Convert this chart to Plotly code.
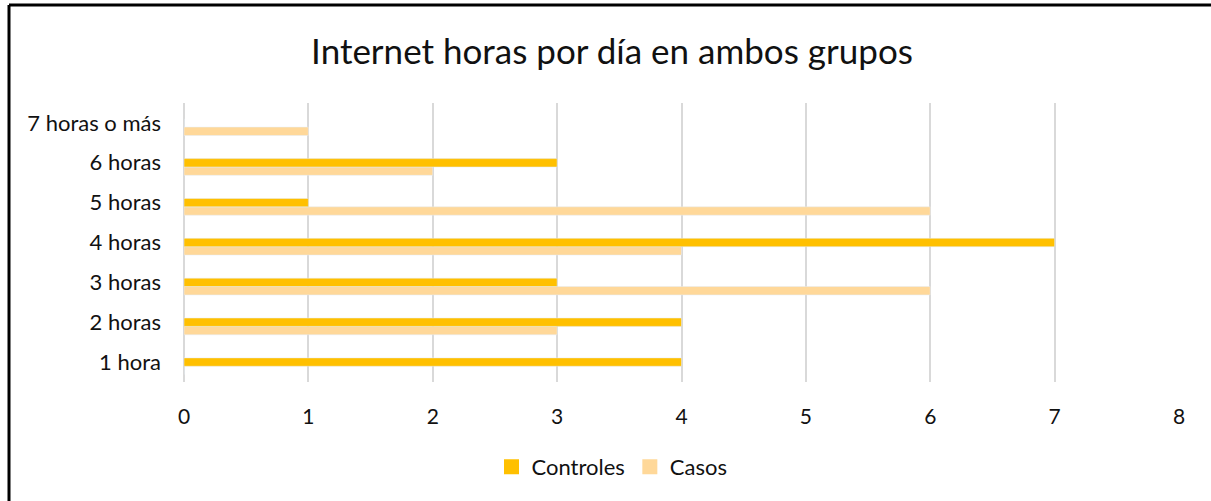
"""Horizontal bar chart: internet hours per day, controls vs cases."""

import plotly.graph_objects as go

CATEGORIES = ["1 hora", "2 horas", "3 horas", "4 horas", "5 horas", "6 horas", "7 horas o más"]
CONTROLES = [4, 4, 3, 7, 1, 3, 0]
CASOS = [0, 3, 6, 4, 6, 2, 1]
X_TICKS = [0, 1, 2, 3, 4, 5, 6, 7, 8]

FONT = "Lato"
TEXT = "#111111"
GRID = "#D9D9D9"
C_CONTROLES = "#FFC000"
C_CASOS = "#FFD899"

# plot area in pixels (used for the frame lines)
W, H = 1211, 501
L, R, T, B = 184, 32, 103, 119
PW, PH = W - L - R, H - T - B


def px_to_paper(x=None, y=None):
    if x is not None:
        return (x - L) / PW
    return (H - B - y) / PH


fig = go.Figure()
fig.add_trace(
    go.Bar(
        y=CATEGORIES, x=CASOS, name="Casos", orientation="h",
        marker_color=C_CASOS, width=0.21, offset=-0.315, showlegend=False,
    )
)
fig.add_trace(
    go.Bar(
        y=CATEGORIES, x=CONTROLES, name="Controles", orientation="h",
        marker_color=C_CONTROLES, width=0.21, offset=-0.105, showlegend=False,
    )
)

# legend entries with Excel-like square keys
for name, color in [("Controles", C_CONTROLES), ("Casos", C_CASOS)]:
    fig.add_trace(
        go.Scatter(
            x=[None], y=[None], name=name, mode="markers",
            marker=dict(symbol="square", size=15, color=color),
        )
    )

# black frame (only top and left edges are visible in the crop)
frame = dict(type="line", xref="paper", yref="paper", line=dict(color="black", width=3))
fig.add_shape(**frame, x0=px_to_paper(x=9), x1=px_to_paper(x=W + 5),
              y0=px_to_paper(y=5), y1=px_to_paper(y=5))
fig.add_shape(**frame, x0=px_to_paper(x=9), x1=px_to_paper(x=9),
              y0=px_to_paper(y=5), y1=px_to_paper(y=H + 5))

fig.update_layout(
    width=W,
    height=H,
    margin=dict(l=L, r=R, t=T, b=B),
    paper_bgcolor="white",
    plot_bgcolor="white",
    barmode="overlay",
    font=dict(family=FONT, color=TEXT),
    title=dict(
        text="Internet horas por día en ambos grupos",
        font=dict(family=FONT, size=35, color=TEXT),
        x=612 / W,
        xanchor="center",
        y=1 - 52 / H,
        yanchor="middle",
    ),
    xaxis=dict(
        range=[0, 8],
        tickvals=X_TICKS,
        showgrid=True,
        gridcolor=GRID,
        gridwidth=2,
        zeroline=True,
        zerolinecolor=GRID,
        zerolinewidth=2,
        showline=False,
        ticks="",
        ticklabelstandoff=20,
        tickfont=dict(family=FONT, size=21, color=TEXT),
        fixedrange=True,
    ),
    yaxis=dict(
        type="category",
        categoryorder="array",
        categoryarray=CATEGORIES,
        range=[-0.5, len(CATEGORIES) - 0.5],
        showgrid=False,
        showline=False,
        ticks="",
        ticklabelstandoff=22,
        tickfont=dict(family=FONT, size=22, color=TEXT),
        fixedrange=True,
    ),
    legend=dict(
        orientation="h",
        x=px_to_paper(x=612),
        xanchor="center",
        y=px_to_paper(y=467),
        yanchor="middle",
        font=dict(family=FONT, size=22, color=TEXT),
        itemwidth=30,
    ),
    showlegend=True,
)

fig.write_html(
    "out.html",
    config={"displayModeBar": False},
    post_script="document.body.style.margin='0';document.body.style.overflow='hidden';",
)
